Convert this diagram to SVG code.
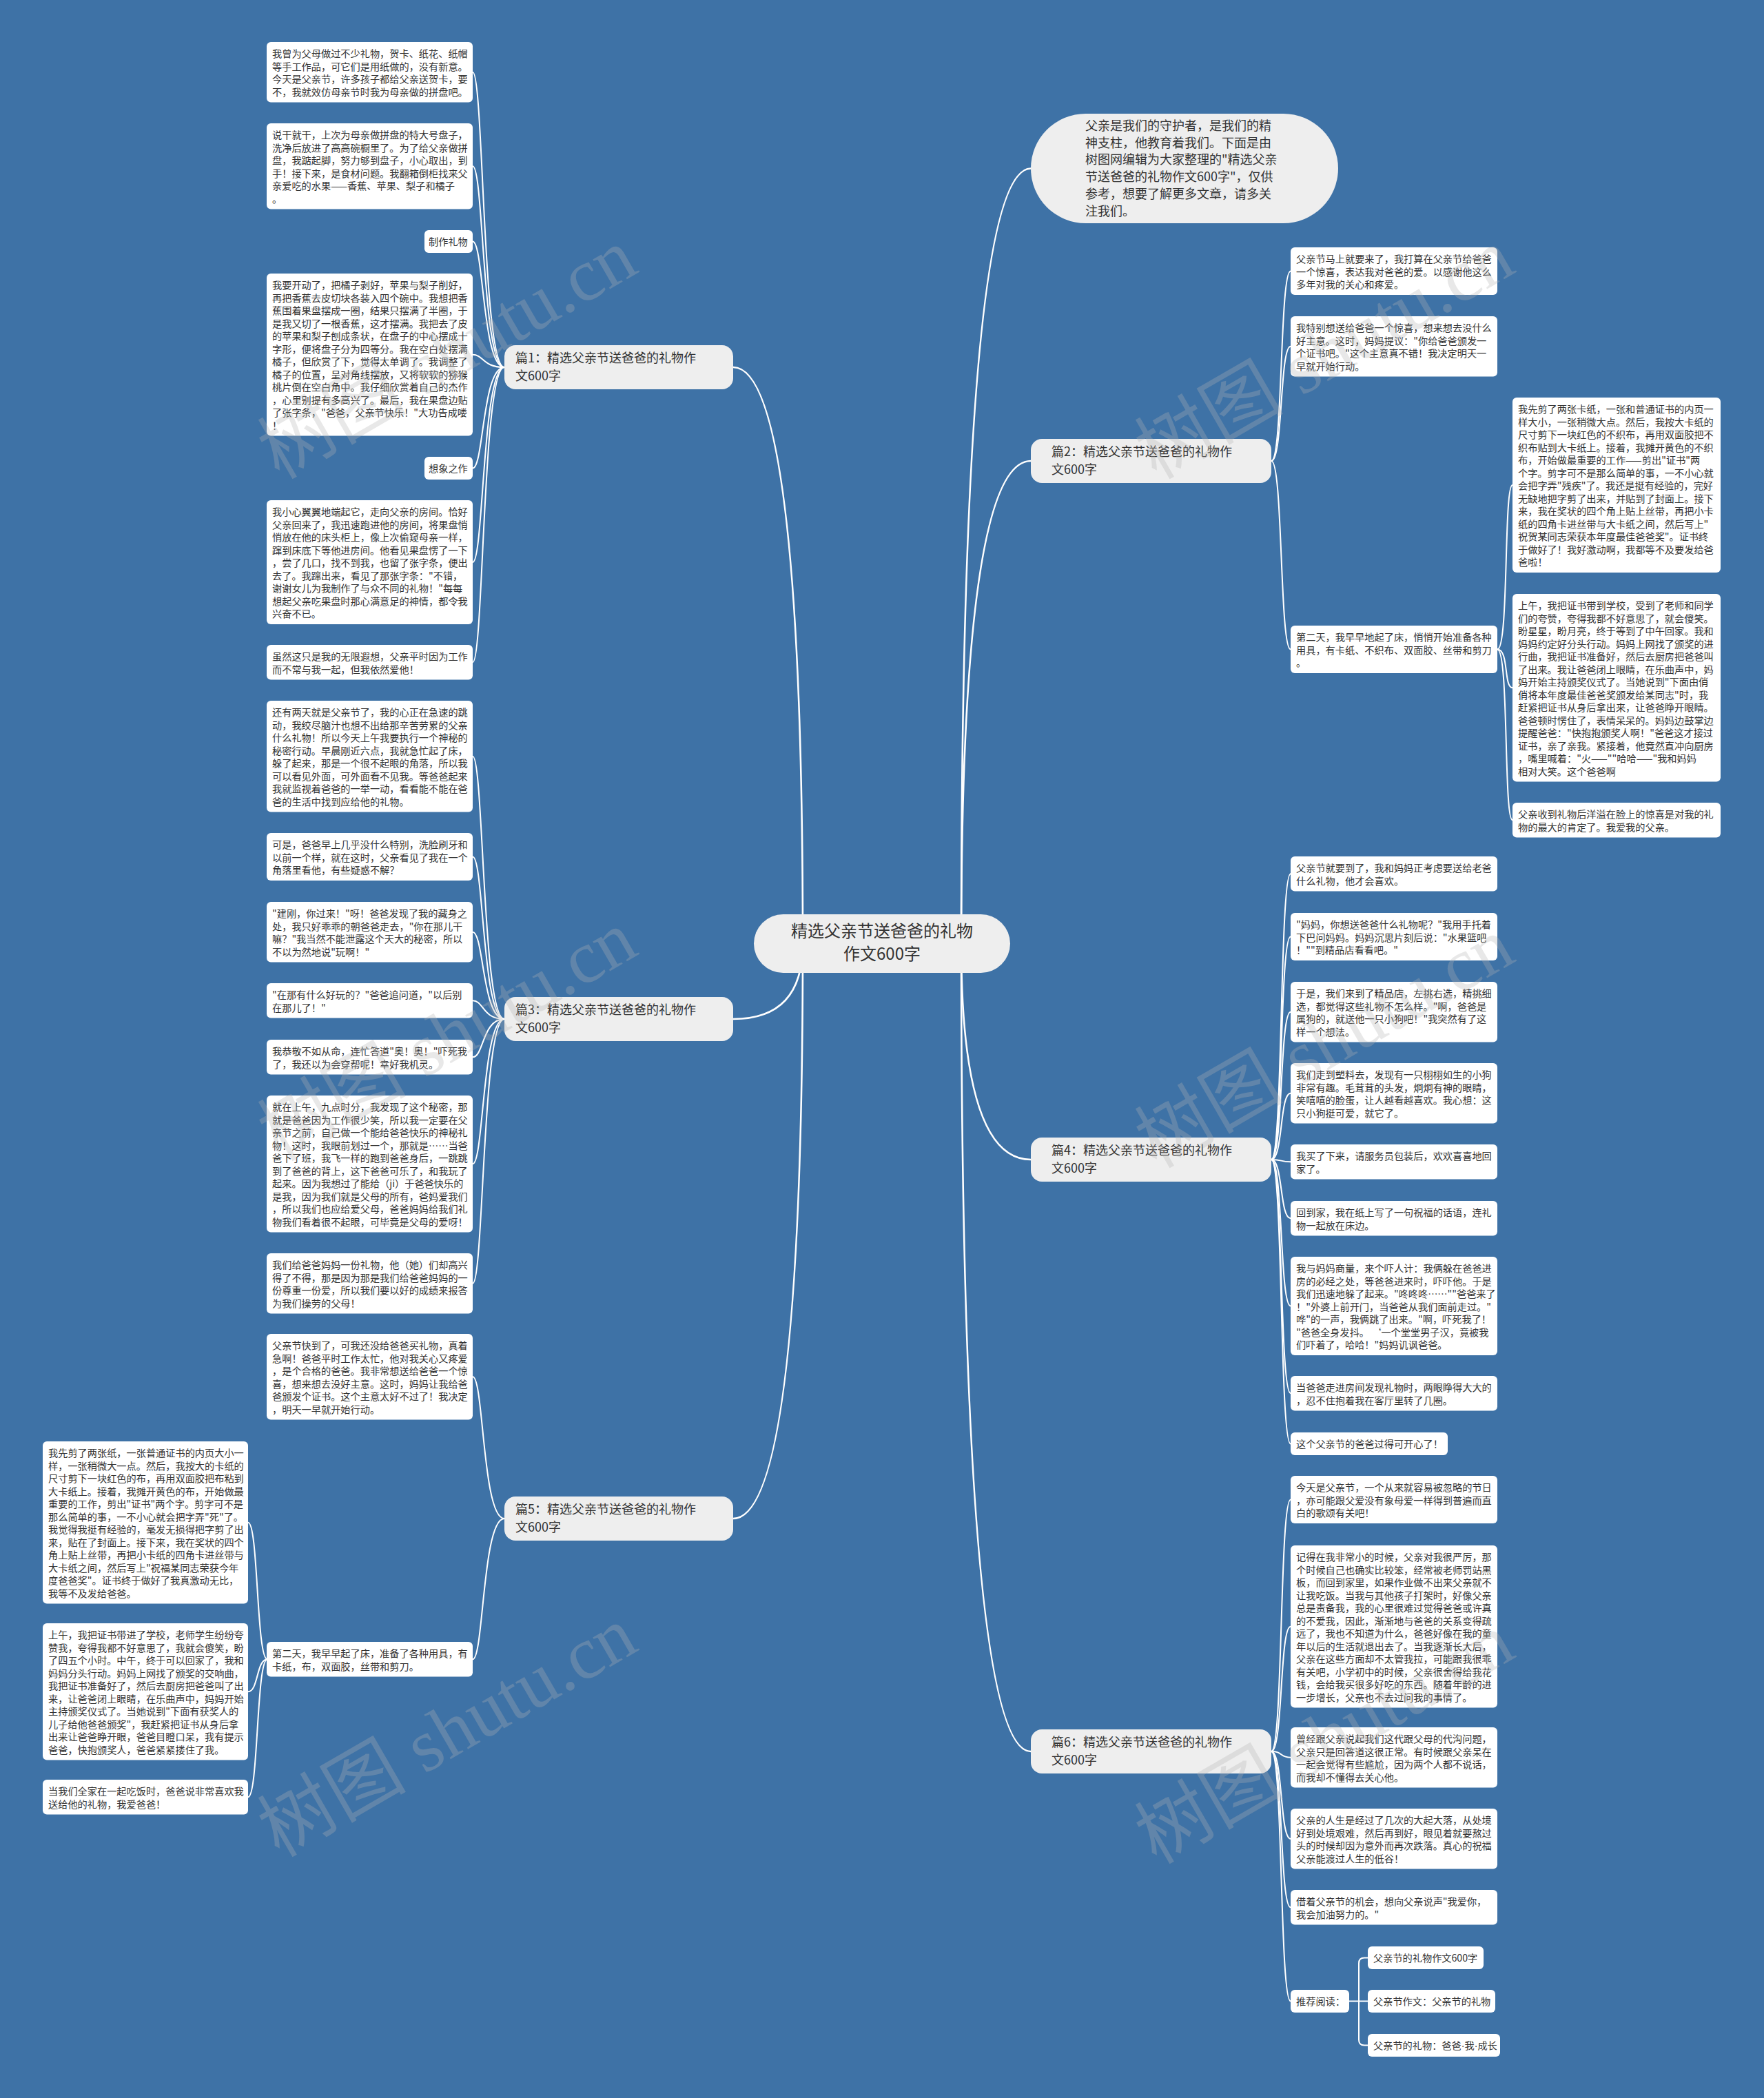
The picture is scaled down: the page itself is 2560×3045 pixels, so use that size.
<svg xmlns="http://www.w3.org/2000/svg" width="2560" height="3045" viewBox="0 0 2560 3045">
<defs>
<style>
.bg{fill:#3e72a6}
.box{fill:#ffffff}
.nd{fill:#eeeeee}
.t{font-family:"Noto Sans CJK SC","Noto Sans",sans-serif;font-size:14.2px;fill:#333333}
.tb{font-size:18px}
.tc{font-size:24px}
.dot{font-family:"Liberation Sans",sans-serif}
.ln{fill:none;stroke:#ffffff;stroke-width:2}
.lm{stroke-width:2.6}
.wm{font-family:"Liberation Serif","Noto Sans CJK SC",serif;font-size:108px;fill:#b4b4b4;fill-opacity:0.3}
</style>
</defs>
<rect class="bg" x="0" y="0" width="2560" height="3045"/>

<g id="connectors">
<path class="ln lm" d="M1395,1370 Q1395,244.5 1496,244.5"/>
<path class="ln lm" d="M1395,1370 Q1395,669 1496,669"/>
<path class="ln lm" d="M1395,1370 Q1395,1683 1496,1683"/>
<path class="ln lm" d="M1395,1370 Q1395,2542 1496,2542"/>
<path class="ln lm" d="M1165,1370 Q1165,533 1064,533"/>
<path class="ln lm" d="M1165,1370 Q1165,1479 1064,1479"/>
<path class="ln lm" d="M1165,1370 Q1165,2204 1064,2204"/>
<path class="ln" d="M732,533 C700,533 702,104.75 686,104.75"/>
<path class="ln" d="M732,533 C700,533 702,241.25 686,241.25"/>
<path class="ln" d="M732,533 C700,533 702,350.5 686,350.5"/>
<path class="ln" d="M732,533 C700,533 702,514.75 686,514.75"/>
<path class="ln" d="M732,533 C700,533 702,679.5 686,679.5"/>
<path class="ln" d="M732,533 C700,533 702,816 686,816"/>
<path class="ln" d="M732,533 C700,533 702,961.25 686,961.25"/>
<path class="ln" d="M732,1479 C700,1479 702,1097.75 686,1097.75"/>
<path class="ln" d="M732,1479 C700,1479 702,1243.5 686,1243.5"/>
<path class="ln" d="M732,1479 C700,1479 702,1352.75 686,1352.75"/>
<path class="ln" d="M732,1479 C700,1479 702,1452.25 686,1452.25"/>
<path class="ln" d="M732,1479 C700,1479 702,1534.25 686,1534.25"/>
<path class="ln" d="M732,1479 C700,1479 702,1689.25 686,1689.25"/>
<path class="ln" d="M732,1479 C700,1479 702,1862.75 686,1862.75"/>
<path class="ln" d="M732,2204 C700,2204 702,1998.25 686,1998.25"/>
<path class="ln" d="M732,2204 C700,2204 702,2408.25 686,2408.25"/>
<path class="ln" d="M388,2408.25 C372,2408.25 375,2209.75 360,2209.75"/>
<path class="ln" d="M388,2408.25 C372,2408.25 375,2455.25 360,2455.25"/>
<path class="ln" d="M388,2408.25 C372,2408.25 375,2608.25 360,2608.25"/>
<path class="ln" d="M1845,669 C1862,669 1857,393.5 1873,393.5"/>
<path class="ln" d="M1845,669 C1862,669 1857,502.75 1873,502.75"/>
<path class="ln" d="M1845,669 C1862,669 1857,942.5 1873,942.5"/>
<path class="ln" d="M2173,942.5 C2190,942.5 2182,704 2195,704"/>
<path class="ln" d="M2173,942.5 C2190,942.5 2182,998.25 2195,998.25"/>
<path class="ln" d="M2173,942.5 C2190,942.5 2182,1190.25 2195,1190.25"/>
<path class="ln" d="M1845,1683 C1862,1683 1857,1268.25 1873,1268.25"/>
<path class="ln" d="M1845,1683 C1862,1683 1857,1359.5 1873,1359.5"/>
<path class="ln" d="M1845,1683 C1862,1683 1857,1468.75 1873,1468.75"/>
<path class="ln" d="M1845,1683 C1862,1683 1857,1586.75 1873,1586.75"/>
<path class="ln" d="M1845,1683 C1862,1683 1857,1686.25 1873,1686.25"/>
<path class="ln" d="M1845,1683 C1862,1683 1857,1768.25 1873,1768.25"/>
<path class="ln" d="M1845,1683 C1862,1683 1857,1895.5 1873,1895.5"/>
<path class="ln" d="M1845,1683 C1862,1683 1857,2022.25 1873,2022.25"/>
<path class="ln" d="M1845,1683 C1862,1683 1857,2095.5 1873,2095.5"/>
<path class="ln" d="M1845,2542 C1862,2542 1857,2176.5 1873,2176.5"/>
<path class="ln" d="M1845,2542 C1862,2542 1857,2360.75 1873,2360.75"/>
<path class="ln" d="M1845,2542 C1862,2542 1857,2550.75 1873,2550.75"/>
<path class="ln" d="M1845,2542 C1862,2542 1857,2668.75 1873,2668.75"/>
<path class="ln" d="M1845,2542 C1862,2542 1857,2768.25 1873,2768.25"/>
<path class="ln" d="M1845,2542 C1862,2542 1857,2904.5 1873,2904.5"/>
<path class="ln" d="M1958,2904.5 H1985"/>
<path class="ln" d="M1972,2904.5 V2849.5 Q1972,2841.5 1980,2841.5 H1985"/>
<path class="ln" d="M1972,2904.5 V2960.5 Q1972,2968.5 1980,2968.5 H1985"/>
</g>

<g id="center">
<rect class="nd" x="1094" y="1327" width="372" height="85" rx="42.5"/>
<text class="t tc" x="1280" y="1360" text-anchor="middle">精选父亲节送爸爸的礼物<tspan x="1280" dy="33">作文600字</tspan></text>
</g>

<g id="intro">
<rect class="nd" x="1496" y="165" width="446" height="159" rx="79.5"/>
<text class="t tb" x="1575" y="189">父亲是我们的守护者，是我们的精<tspan x="1575" dy="24.7">神支柱，他教育着我们。下面是由</tspan><tspan x="1575" dy="24.7">树图网编辑为大家整理的"精选父亲</tspan><tspan x="1575" dy="24.7">节送爸爸的礼物作文600字"，仅供</tspan><tspan x="1575" dy="24.7">参考，想要了解更多文章，请多关</tspan><tspan x="1575" dy="24.7">注我们。</tspan></text>
</g>

<g id="p1">
<rect class="nd" x="732" y="501" width="332" height="64" rx="16"/>
<text class="t tb" x="748" y="526">篇1：精选父亲节送爸爸的礼物作<tspan x="748" dy="26">文600字</tspan></text>
</g>
<g id="p2">
<rect class="nd" x="1496" y="637" width="349" height="64" rx="16"/>
<text class="t tb" x="1526" y="662">篇2：精选父亲节送爸爸的礼物作<tspan x="1526" dy="26">文600字</tspan></text>
</g>
<g id="p3">
<rect class="nd" x="732" y="1447" width="332" height="64" rx="16"/>
<text class="t tb" x="748" y="1472">篇3：精选父亲节送爸爸的礼物作<tspan x="748" dy="26">文600字</tspan></text>
</g>
<g id="p4">
<rect class="nd" x="1496" y="1651" width="349" height="64" rx="16"/>
<text class="t tb" x="1526" y="1676">篇4：精选父亲节送爸爸的礼物作<tspan x="1526" dy="26">文600字</tspan></text>
</g>
<g id="p5">
<rect class="nd" x="732" y="2172" width="332" height="64" rx="16"/>
<text class="t tb" x="748" y="2197">篇5：精选父亲节送爸爸的礼物作<tspan x="748" dy="26">文600字</tspan></text>
</g>
<g id="p6">
<rect class="nd" x="1496" y="2510" width="349" height="64" rx="16"/>
<text class="t tb" x="1526" y="2535">篇6：精选父亲节送爸爸的礼物作<tspan x="1526" dy="26">文600字</tspan></text>
</g>

<g id="b1_1"><rect class="box" x="387" y="61" width="299" height="87.5" rx="6"/>
<text class="t" x="395" y="83">我曾为父母做过不少礼物，贺卡、纸花、纸帽<tspan x="395" dy="18.5">等手工作品，可它们是用纸做的，没有新意。</tspan><tspan x="395" dy="18.5">今天是父亲节，许多孩子都给父亲送贺卡，要</tspan><tspan x="395" dy="18.5">不，我就效仿母亲节时我为母亲做的拼盘吧。</tspan></text></g>
<g id="b1_2"><rect class="box" x="387" y="179" width="299" height="124.5" rx="6"/>
<text class="t" x="395" y="201">说干就干，上次为母亲做拼盘的特大号盘子，<tspan x="395" dy="18.5">洗净后放进了高高碗橱里了。为了给父亲做拼</tspan><tspan x="395" dy="18.5">盘，我踮起脚，努力够到盘子，小心取出，到</tspan><tspan x="395" dy="18.5">手！接下来，是食材问题。我翻箱倒柜找来父</tspan><tspan x="395" dy="18.5">亲爱吃的水果——香蕉、苹果、梨子和橘子</tspan><tspan x="395" dy="18.5">。</tspan></text></g>
<g id="b1_tag1"><rect class="box" x="616" y="334" width="70" height="33" rx="6"/>
<text class="t" x="622" y="356">制作礼物</text></g>
<g id="b1_3"><rect class="box" x="387" y="397" width="299" height="235.5" rx="6"/>
<text class="t" x="395" y="419">我要开动了，把橘子剥好，苹果与梨子削好，<tspan x="395" dy="18.5">再把香蕉去皮切块各装入四个碗中。我想把香</tspan><tspan x="395" dy="18.5">蕉围着果盘摆成一圈，结果只摆满了半圈，于</tspan><tspan x="395" dy="18.5">是我又切了一根香蕉，这才摆满。我把去了皮</tspan><tspan x="395" dy="18.5">的苹果和梨子刨成条状，在盘子的中心摆成十</tspan><tspan x="395" dy="18.5">字形，便将盘子分为四等分。我在空白处摆满</tspan><tspan x="395" dy="18.5">橘子，但欣赏了下，觉得太单调了。我调整了</tspan><tspan x="395" dy="18.5">橘子的位置，呈对角线摆放，又将软软的猕猴</tspan><tspan x="395" dy="18.5">桃片倒在空白角中。我仔细欣赏着自己的杰作</tspan><tspan x="395" dy="18.5">，心里别提有多高兴了。最后，我在果盘边贴</tspan><tspan x="395" dy="18.5">了张字条，"爸爸，父亲节快乐！"大功告成喽</tspan><tspan x="395" dy="18.5">！</tspan></text></g>
<g id="b1_tag2"><rect class="box" x="616" y="663" width="70" height="33" rx="6"/>
<text class="t" x="622" y="685">想象之作</text></g>
<g id="b1_4"><rect class="box" x="387" y="726" width="299" height="180" rx="6"/>
<text class="t" x="395" y="748">我小心翼翼地端起它，走向父亲的房间。恰好<tspan x="395" dy="18.5">父亲回来了，我迅速跑进他的房间，将果盘悄</tspan><tspan x="395" dy="18.5">悄放在他的床头柜上，像上次偷窥母亲一样，</tspan><tspan x="395" dy="18.5">蹿到床底下等他进房间。他看见果盘愣了一下</tspan><tspan x="395" dy="18.5">，尝了几口，找不到我，也留了张字条，便出</tspan><tspan x="395" dy="18.5">去了。我蹿出来，看见了那张字条："不错，</tspan><tspan x="395" dy="18.5">谢谢女儿为我制作了与众不同的礼物！"每每</tspan><tspan x="395" dy="18.5">想起父亲吃果盘时那心满意足的神情，都令我</tspan><tspan x="395" dy="18.5">兴奋不已。</tspan></text></g>
<g id="b1_5"><rect class="box" x="387" y="936" width="299" height="50.5" rx="6"/>
<text class="t" x="395" y="958">虽然这只是我的无限遐想，父亲平时因为工作<tspan x="395" dy="18.5">而不常与我一起，但我依然爱他！</tspan></text></g>

<g id="b3_1"><rect class="box" x="387" y="1017" width="299" height="161.5" rx="6"/>
<text class="t" x="395" y="1039">还有两天就是父亲节了，我的心正在急速的跳<tspan x="395" dy="18.5">动，我绞尽脑汁也想不出给那辛苦劳累的父亲</tspan><tspan x="395" dy="18.5">什么礼物！所以今天上午我要执行一个神秘的</tspan><tspan x="395" dy="18.5">秘密行动。早晨刚近六点，我就急忙起了床，</tspan><tspan x="395" dy="18.5">躲了起来，那是一个很不起眼的角落，所以我</tspan><tspan x="395" dy="18.5">可以看见外面，可外面看不见我。等爸爸起来</tspan><tspan x="395" dy="18.5">我就监视着爸爸的一举一动，看看能不能在爸</tspan><tspan x="395" dy="18.5">爸的生活中找到应给他的礼物。</tspan></text></g>
<g id="b3_2"><rect class="box" x="387" y="1209" width="299" height="69" rx="6"/>
<text class="t" x="395" y="1231">可是，爸爸早上几乎没什么特别，洗脸刷牙和<tspan x="395" dy="18.5">以前一个样，就在这时，父亲看见了我在一个</tspan><tspan x="395" dy="18.5">角落里看他，有些疑惑不解？</tspan></text></g>
<g id="b3_3"><rect class="box" x="387" y="1309" width="299" height="87.5" rx="6"/>
<text class="t" x="395" y="1331">"建刚，你过来！"呀！爸爸发现了我的藏身之<tspan x="395" dy="18.5">处，我只好乖乖的朝爸爸走去，"你在那儿干</tspan><tspan x="395" dy="18.5">嘛？"我当然不能泄露这个天大的秘密，所以</tspan><tspan x="395" dy="18.5">不以为然地说"玩啊！"</tspan></text></g>
<g id="b3_4"><rect class="box" x="387" y="1427" width="299" height="50.5" rx="6"/>
<text class="t" x="395" y="1449">"在那有什么好玩的？"爸爸追问道，"以后别<tspan x="395" dy="18.5">在那儿了！"</tspan></text></g>
<g id="b3_5"><rect class="box" x="387" y="1509" width="299" height="50.5" rx="6"/>
<text class="t" x="395" y="1531">我恭敬不如从命，连忙答道"奥！奥！"吓死我<tspan x="395" dy="18.5">了，我还以为会穿帮呢！幸好我机灵。</tspan></text></g>
<g id="b3_6"><rect class="box" x="387" y="1590" width="299" height="198.5" rx="6"/>
<text class="t" x="395" y="1612">就在上午，九点时分，我发现了这个秘密，那<tspan x="395" dy="18.5">就是爸爸因为工作很少笑，所以我一定要在父</tspan><tspan x="395" dy="18.5">亲节之前，自己做一个能给爸爸快乐的神秘礼</tspan><tspan x="395" dy="18.5">物！这时，我眼前划过一个，那就是……当爸</tspan><tspan x="395" dy="18.5">爸下了班，我飞一样的跑到爸爸身后，一跳跳</tspan><tspan x="395" dy="18.5">到了爸爸的背上，这下爸爸可乐了，和我玩了</tspan><tspan x="395" dy="18.5">起来。因为我想过了能给（ji）于爸爸快乐的</tspan><tspan x="395" dy="18.5">是我，因为我们就是父母的所有，爸妈爱我们</tspan><tspan x="395" dy="18.5">，所以我们也应给爱父母，爸爸妈妈给我们礼</tspan><tspan x="395" dy="18.5">物我们看着很不起眼，可毕竟是父母的爱呀！</tspan></text></g>
<g id="b3_7"><rect class="box" x="387" y="1819" width="299" height="87.5" rx="6"/>
<text class="t" x="395" y="1841">我们给爸爸妈妈一份礼物，他（她）们却高兴<tspan x="395" dy="18.5">得了不得，那是因为那是我们给爸爸妈妈的一</tspan><tspan x="395" dy="18.5">份尊重一份爱，所以我们要以好的成绩来报答</tspan><tspan x="395" dy="18.5">为我们操劳的父母！</tspan></text></g>

<g id="b5_1"><rect class="box" x="387" y="1936" width="299" height="124.5" rx="6"/>
<text class="t" x="395" y="1958">父亲节快到了，可我还没给爸爸买礼物，真着<tspan x="395" dy="18.5">急啊！爸爸平时工作太忙，他对我关心又疼爱</tspan><tspan x="395" dy="18.5">，是个合格的爸爸。我非常想送给爸爸一个惊</tspan><tspan x="395" dy="18.5">喜，想来想去没好主意。这时，妈妈让我给爸</tspan><tspan x="395" dy="18.5">爸颁发个证书。这个主意太好不过了！我决定</tspan><tspan x="395" dy="18.5">，明天一早就开始行动。</tspan></text></g>
<g id="b5_2"><rect class="box" x="387" y="2383" width="299" height="50.5" rx="6"/>
<text class="t" x="395" y="2405">第二天，我早早起了床，准备了各种用具，有<tspan x="395" dy="18.5">卡纸，布，双面胶，丝带和剪刀。</tspan></text></g>
<g id="fl_1"><rect class="box" x="62" y="2092" width="298" height="235.5" rx="6"/>
<text class="t" x="70" y="2114">我先剪了两张纸，一张普通证书的内页大小一<tspan x="70" dy="18.5">样，一张稍微大一点。然后，我按大的卡纸的</tspan><tspan x="70" dy="18.5">尺寸剪下一块红色的布，再用双面胶把布粘到</tspan><tspan x="70" dy="18.5">大卡纸上。接着，我摊开黄色的布，开始做最</tspan><tspan x="70" dy="18.5">重要的工作，剪出"证书"两个字。剪字可不是</tspan><tspan x="70" dy="18.5">那么简单的事，一不小心就会把字弄"死"了。</tspan><tspan x="70" dy="18.5">我觉得我挺有经验的，毫发无损得把字剪了出</tspan><tspan x="70" dy="18.5">来，贴在了封面上。接下来，我在奖状的四个</tspan><tspan x="70" dy="18.5">角上贴上丝带，再把小卡纸的四角卡进丝带与</tspan><tspan x="70" dy="18.5">大卡纸之间，然后写上"祝福某同志荣获今年</tspan><tspan x="70" dy="18.5">度爸爸奖"。证书终于做好了我真激动无比，</tspan><tspan x="70" dy="18.5">我等不及发给爸爸。</tspan></text></g>
<g id="fl_2"><rect class="box" x="62" y="2356" width="298" height="198.5" rx="6"/>
<text class="t" x="70" y="2378">上午，我把证书带进了学校，老师学生纷纷夸<tspan x="70" dy="18.5">赞我，夸得我都不好意思了，我就会傻笑，盼</tspan><tspan x="70" dy="18.5">了四五个小时。中午，终于可以回家了，我和</tspan><tspan x="70" dy="18.5">妈妈分头行动。妈妈上网找了颁奖的交响曲，</tspan><tspan x="70" dy="18.5">我把证书准备好了，然后去厨房把爸爸叫了出</tspan><tspan x="70" dy="18.5">来，让爸爸闭上眼睛，在乐曲声中，妈妈开始</tspan><tspan x="70" dy="18.5">主持颁奖仪式了。当她说到"下面有获奖人的</tspan><tspan x="70" dy="18.5">儿子给他爸爸颁奖"，我赶紧把证书从身后拿</tspan><tspan x="70" dy="18.5">出来让爸爸睁开眼，爸爸目瞪口呆，我有提示</tspan><tspan x="70" dy="18.5">爸爸，快抱颁奖人，爸爸紧紧搂住了我。</tspan></text></g>
<g id="fl_3"><rect class="box" x="62" y="2583" width="298" height="50.5" rx="6"/>
<text class="t" x="70" y="2605">当我们全家在一起吃饭时，爸爸说非常喜欢我<tspan x="70" dy="18.5">送给他的礼物，我爱爸爸！</tspan></text></g>

<g id="r2_1"><rect class="box" x="1873" y="359" width="300" height="69" rx="6"/>
<text class="t" x="1881" y="381">父亲节马上就要来了，我打算在父亲节给爸爸<tspan x="1881" dy="18.5">一个惊喜，表达我对爸爸的爱。以感谢他这么</tspan><tspan x="1881" dy="18.5">多年对我的关心和疼爱。</tspan></text></g>
<g id="r2_2"><rect class="box" x="1873" y="459" width="300" height="87.5" rx="6"/>
<text class="t" x="1881" y="481">我特别想送给爸爸一个惊喜，想来想去没什么<tspan x="1881" dy="18.5">好主意。这时，妈妈提议："你给爸爸颁发一</tspan><tspan x="1881" dy="18.5">个证书吧。"这个主意真不错！我决定明天一</tspan><tspan x="1881" dy="18.5">早就开始行动。</tspan></text></g>
<g id="r2_3"><rect class="box" x="1873" y="908" width="300" height="69" rx="6"/>
<text class="t" x="1881" y="930">第二天，我早早地起了床，悄悄开始准备各种<tspan x="1881" dy="18.5">用具，有卡纸、不织布、双面胶、丝带和剪刀</tspan><tspan x="1881" dy="18.5">。</tspan></text></g>
<g id="fr_1"><rect class="box" x="2195" y="577" width="302" height="254" rx="6"/>
<text class="t" x="2203" y="599">我先剪了两张卡纸，一张和普通证书的内页一<tspan x="2203" dy="18.5">样大小，一张稍微大点。然后，我按大卡纸的</tspan><tspan x="2203" dy="18.5">尺寸剪下一块红色的不织布，再用双面胶把不</tspan><tspan x="2203" dy="18.5">织布贴到大卡纸上。接着，我摊开黄色的不织</tspan><tspan x="2203" dy="18.5">布，开始做最重要的工作——剪出"证书"两</tspan><tspan x="2203" dy="18.5">个字。剪字可不是那么简单的事，一不小心就</tspan><tspan x="2203" dy="18.5">会把字弄"残疾"了。我还是挺有经验的，完好</tspan><tspan x="2203" dy="18.5">无缺地把字剪了出来，并贴到了封面上。接下</tspan><tspan x="2203" dy="18.5">来，我在奖状的四个角上贴上丝带，再把小卡</tspan><tspan x="2203" dy="18.5">纸的四角卡进丝带与大卡纸之间，然后写上"</tspan><tspan x="2203" dy="18.5">祝贺某同志荣获本年度最佳爸爸奖"。证书终</tspan><tspan x="2203" dy="18.5">于做好了！我好激动啊，我都等不及要发给爸</tspan><tspan x="2203" dy="18.5">爸啦！</tspan></text></g>
<g id="fr_2"><rect class="box" x="2195" y="862" width="302" height="272.5" rx="6"/>
<text class="t" x="2203" y="884">上午，我把证书带到学校，受到了老师和同学<tspan x="2203" dy="18.5">们的夸赞，夸得我都不好意思了，就会傻笑。</tspan><tspan x="2203" dy="18.5">盼星星，盼月亮，终于等到了中午回家。我和</tspan><tspan x="2203" dy="18.5">妈妈约定好分头行动。妈妈上网找了颁奖的进</tspan><tspan x="2203" dy="18.5">行曲，我把证书准备好，然后去厨房把爸爸叫</tspan><tspan x="2203" dy="18.5">了出来。我让爸爸闭上眼睛，在乐曲声中，妈</tspan><tspan x="2203" dy="18.5">妈开始主持颁奖仪式了。当她说到"下面由俏</tspan><tspan x="2203" dy="18.5">俏将本年度最佳爸爸奖颁发给某同志"时，我</tspan><tspan x="2203" dy="18.5">赶紧把证书从身后拿出来，让爸爸睁开眼睛。</tspan><tspan x="2203" dy="18.5">爸爸顿时愣住了，表情呆呆的。妈妈边鼓掌边</tspan><tspan x="2203" dy="18.5">提醒爸爸："快抱抱颁奖人啊！"爸爸这才接过</tspan><tspan x="2203" dy="18.5">证书，亲了亲我。紧接着，他竟然直冲向厨房</tspan><tspan x="2203" dy="18.5">，嘴里喊着："火——""哈哈——"我和妈妈</tspan><tspan x="2203" dy="18.5">相对大笑。这个爸爸啊</tspan></text></g>
<g id="fr_3"><rect class="box" x="2195" y="1165" width="302" height="50.5" rx="6"/>
<text class="t" x="2203" y="1187">父亲收到礼物后洋溢在脸上的惊喜是对我的礼<tspan x="2203" dy="18.5">物的最大的肯定了。我爱我的父亲。</tspan></text></g>

<g id="r4_1"><rect class="box" x="1873" y="1243" width="300" height="50.5" rx="6"/>
<text class="t" x="1881" y="1265">父亲节就要到了，我和妈妈正考虑要送给老爸<tspan x="1881" dy="18.5">什么礼物，他才会喜欢。</tspan></text></g>
<g id="r4_2"><rect class="box" x="1873" y="1325" width="300" height="69" rx="6"/>
<text class="t" x="1881" y="1347">"妈妈，你想送爸爸什么礼物呢？"我用手托着<tspan x="1881" dy="18.5">下巴问妈妈。妈妈沉思片刻后说："水果篮吧</tspan><tspan x="1881" dy="18.5">！""到精品店看看吧。"</tspan></text></g>
<g id="r4_3"><rect class="box" x="1873" y="1425" width="300" height="87.5" rx="6"/>
<text class="t" x="1881" y="1447">于是，我们来到了精品店，左挑右选，精挑细<tspan x="1881" dy="18.5">选，都觉得这些礼物不怎么样。"啊，爸爸是</tspan><tspan x="1881" dy="18.5">属狗的，就送他一只小狗吧！"我突然有了这</tspan><tspan x="1881" dy="18.5">样一个想法。</tspan></text></g>
<g id="r4_4"><rect class="box" x="1873" y="1543" width="300" height="87.5" rx="6"/>
<text class="t" x="1881" y="1565">我们走到塑料去，发现有一只栩栩如生的小狗<tspan x="1881" dy="18.5">非常有趣。毛茸茸的头发，炯炯有神的眼睛，</tspan><tspan x="1881" dy="18.5">笑嘻嘻的脸蛋，让人越看越喜欢。我心想：这</tspan><tspan x="1881" dy="18.5">只小狗挺可爱，就它了。</tspan></text></g>
<g id="r4_5"><rect class="box" x="1873" y="1661" width="300" height="50.5" rx="6"/>
<text class="t" x="1881" y="1683">我买了下来，请服务员包装后，欢欢喜喜地回<tspan x="1881" dy="18.5">家了。</tspan></text></g>
<g id="r4_6"><rect class="box" x="1873" y="1743" width="300" height="50.5" rx="6"/>
<text class="t" x="1881" y="1765">回到家，我在纸上写了一句祝福的话语，连礼<tspan x="1881" dy="18.5">物一起放在床边。</tspan></text></g>
<g id="r4_7"><rect class="box" x="1873" y="1824" width="300" height="143" rx="6"/>
<text class="t" x="1881" y="1846">我与妈妈商量，来个吓人计：我俩躲在爸爸进<tspan x="1881" dy="18.5">房的必经之处，等爸爸进来时，吓吓他。于是</tspan><tspan x="1881" dy="18.5">我们迅速地躲了起来。"咚咚咚……""爸爸来了</tspan><tspan x="1881" dy="18.5">！"外婆上前开门，当爸爸从我们面前走过。"</tspan><tspan x="1881" dy="18.5">哗"的一声，我俩跳了出来。"啊，吓死我了！</tspan><tspan x="1881" dy="18.5">"爸爸全身发抖。 ‘一个堂堂男子汉，竟被我</tspan><tspan x="1881" dy="18.5">们吓着了，哈哈！"妈妈讥讽爸爸。</tspan></text></g>
<g id="r4_8"><rect class="box" x="1873" y="1997" width="300" height="50.5" rx="6"/>
<text class="t" x="1881" y="2019">当爸爸走进房间发现礼物时，两眼睁得大大的<tspan x="1881" dy="18.5">，忍不住抱着我在客厅里转了几圈。</tspan></text></g>
<g id="r4_9"><rect class="box" x="1873" y="2079" width="228" height="33" rx="6"/>
<text class="t" x="1881" y="2101">这个父亲节的爸爸过得可开心了！</text></g>

<g id="r6_1"><rect class="box" x="1873" y="2142" width="300" height="69" rx="6"/>
<text class="t" x="1881" y="2164">今天是父亲节，一个从来就容易被忽略的节日<tspan x="1881" dy="18.5">，亦可能跟父爱没有象母爱一样得到普遍而直</tspan><tspan x="1881" dy="18.5">白的歌颂有关吧！</tspan></text></g>
<g id="r6_2"><rect class="box" x="1873" y="2243" width="300" height="235.5" rx="6"/>
<text class="t" x="1881" y="2265">记得在我非常小的时候，父亲对我很严厉，那<tspan x="1881" dy="18.5">个时候自己也确实比较笨，经常被老师罚站黑</tspan><tspan x="1881" dy="18.5">板，而回到家里，如果作业做不出来父亲就不</tspan><tspan x="1881" dy="18.5">让我吃饭。当我与其他孩子打架时，好像父亲</tspan><tspan x="1881" dy="18.5">总是责备我，我的心里很难过觉得爸爸或许真</tspan><tspan x="1881" dy="18.5">的不爱我，因此，渐渐地与爸爸的关系变得疏</tspan><tspan x="1881" dy="18.5">远了，我也不知道为什么，爸爸好像在我的童</tspan><tspan x="1881" dy="18.5">年以后的生活就退出去了。当我逐渐长大后，</tspan><tspan x="1881" dy="18.5">父亲在这些方面却不太管我拉，可能跟我很乖</tspan><tspan x="1881" dy="18.5">有关吧，小学初中的时候，父亲很舍得给我花</tspan><tspan x="1881" dy="18.5">钱，会给我买很多好吃的东西。随着年龄的进</tspan><tspan x="1881" dy="18.5">一步增长，父亲也不去过问我的事情了。</tspan></text></g>
<g id="r6_3"><rect class="box" x="1873" y="2507" width="300" height="87.5" rx="6"/>
<text class="t" x="1881" y="2529">曾经跟父亲说起我们这代跟父母的代沟问题，<tspan x="1881" dy="18.5">父亲只是回答道这很正常。有时候跟父亲呆在</tspan><tspan x="1881" dy="18.5">一起会觉得有些尴尬，因为两个人都不说话，</tspan><tspan x="1881" dy="18.5">而我却不懂得去关心他。</tspan></text></g>
<g id="r6_4"><rect class="box" x="1873" y="2625" width="300" height="87.5" rx="6"/>
<text class="t" x="1881" y="2647">父亲的人生是经过了几次的大起大落，从处境<tspan x="1881" dy="18.5">好到处境艰难，然后再到好，眼见着就要熬过</tspan><tspan x="1881" dy="18.5">头的时候却因为意外而再次跌落。真心的祝福</tspan><tspan x="1881" dy="18.5">父亲能渡过人生的低谷！</tspan></text></g>
<g id="r6_5"><rect class="box" x="1873" y="2743" width="300" height="50.5" rx="6"/>
<text class="t" x="1881" y="2765">借着父亲节的机会，想向父亲说声"我爱你，<tspan x="1881" dy="18.5">我会加油努力的。"</tspan></text></g>
<g id="r6_6"><rect class="box" x="1873" y="2888" width="85" height="33" rx="6"/>
<text class="t" x="1881" y="2910">推荐阅读：</text></g>
<g id="rec_1"><rect class="box" x="1985" y="2825" width="168" height="33" rx="6"/>
<text class="t" x="1993" y="2847">父亲节的礼物作文600字</text></g>
<g id="rec_2"><rect class="box" x="1985" y="2888" width="185" height="33" rx="6"/>
<text class="t" x="1993" y="2910">父亲节作文：父亲节的礼物</text></g>
<g id="rec_3"><rect class="box" x="1985" y="2952" width="192" height="33" rx="6"/>
<text class="t" x="1993" y="2974">父亲节的礼物：爸爸<tspan class="dot">·</tspan>我<tspan class="dot">·</tspan>成长</text></g>

<g id="watermarks">
<text class="wm" x="650" y="550" text-anchor="middle" transform="rotate(-30 650 515)">树图 shutu.cn</text>
<text class="wm" x="650" y="1540" text-anchor="middle" transform="rotate(-30 650 1505)">树图 shutu.cn</text>
<text class="wm" x="650" y="2550" text-anchor="middle" transform="rotate(-30 650 2515)">树图 shutu.cn</text>
<text class="wm" x="1923" y="550" text-anchor="middle" transform="rotate(-30 1923 515)">树图 shutu.cn</text>
<text class="wm" x="1923" y="1550" text-anchor="middle" transform="rotate(-30 1923 1515)">树图 shutu.cn</text>
<text class="wm" x="1923" y="2560" text-anchor="middle" transform="rotate(-30 1923 2525)">树图 shutu.cn</text>
</g>
</svg>
